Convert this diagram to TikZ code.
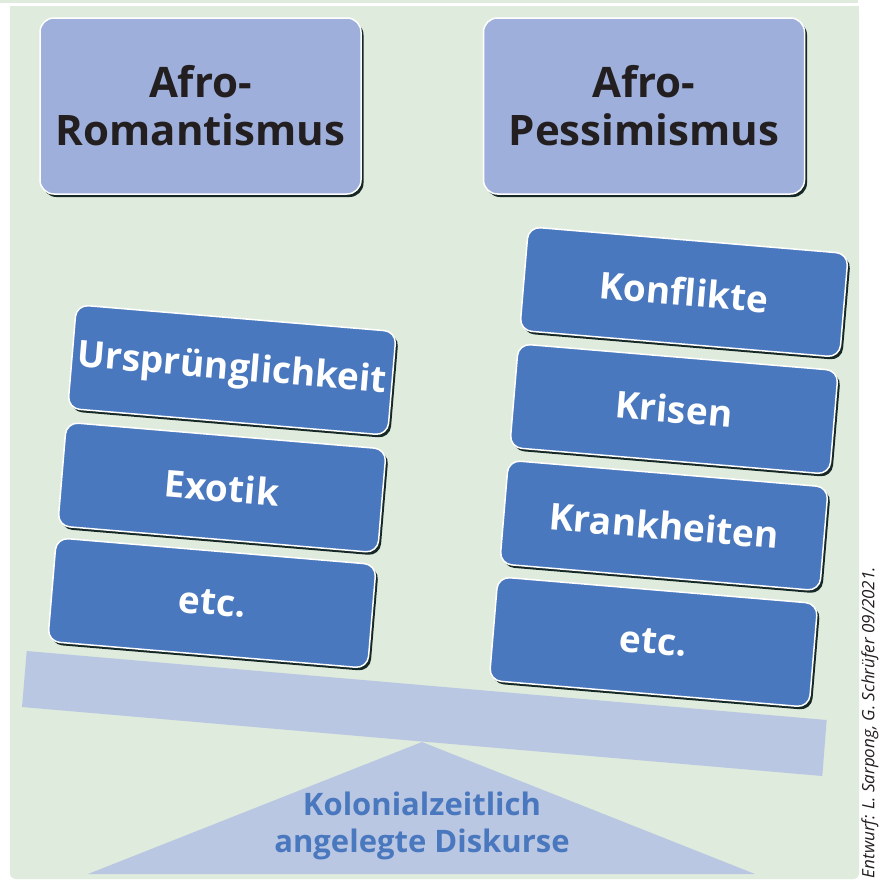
\documentclass[tikz,border=0pt]{standalone}
\usepackage{fontspec}
\setmainfont{Open Sans}
\usetikzlibrary{shadows}
\definecolor{bggreen}{HTML}{DFEBDC}
\definecolor{topblue}{HTML}{9DAFDA}
\definecolor{boxblue}{HTML}{4A78BE}
\definecolor{beamblue}{HTML}{BAC7E3}
\definecolor{darktext}{HTML}{231F20}
\tikzset{
  boxshadow/.style={drop shadow={shadow xshift=2.5pt,shadow yshift=-3pt,fill=black!85!teal,opacity=0.9}},
  topbox/.style={rectangle, rounded corners=14pt, minimum width=321pt, minimum height=176pt,
    fill=topblue, draw=white, line width=1.5pt, boxshadow, text=darktext, align=center,
    font=\bfseries\fontsize{42}{48}\selectfont, inner sep=0pt},
  bluebox/.style={rectangle, rounded corners=12pt, minimum width=321pt, minimum height=104pt,
    fill=boxblue, draw=white, line width=1.5pt, boxshadow, text=white,
    font=\bfseries\fontsize{37}{40}\selectfont, inner sep=0pt, rotate=-4.8},
}
\begin{document}
\begin{tikzpicture}[x=1pt,y=-1pt]
\useasboundingbox (0,0) rectangle (883,881);
\fill[white] (0,0) rectangle (883,881);
% background panel
\fill[bggreen] (0,0) rectangle (858,2.5);
\fill[bggreen, rounded corners=6pt] (10,6) rectangle (859,879);
\fill[bggreen] (10,6) rectangle (859,30);
% beam and fulcrum
\fill[beamblue] (26.7,651) -- (826.7,720) -- (822.3,776) -- (22,707) -- cycle;
\fill[beamblue] (422,742) -- (755,874) -- (88,874) -- cycle;
% top boxes
\node[topbox] (rom) at (200.5,106) {Afro-\\Romantismus};
\node[topbox] (pes) at (644,106) {Afro-\\Pessimismus};
% left stack
\node[bluebox] (urs) at (232,370) {Ursprünglichkeit};
\node[bluebox] (exo) at (222,487.5) {Exotik};
\node[bluebox] (etcl) at (212,603) {etc.};
% right stack
\node[bluebox] (kon) at (684,292) {Konflikte};
\node[bluebox] (kri) at (674,409) {Krisen};
\node[bluebox] (kra) at (664,525.5) {Krankheiten};
\node[bluebox] (etcr) at (653.5,642) {etc.};
% fulcrum label
\node[text=boxblue, align=center, font=\bfseries\fontsize{31}{37}\selectfont, inner sep=0pt] (dis) at (422,826) {Kolonialzeitlich\\angelegte Diskurse};
% credit
\node[rotate=90, anchor=east, font=\itshape\fontsize{17}{19}\selectfont, text=darktext, inner sep=0pt] (cred) at (870,567) {Entwurf: L. Sarpong, G. Schrüfer 09/2021.};
\end{tikzpicture}
\end{document}
